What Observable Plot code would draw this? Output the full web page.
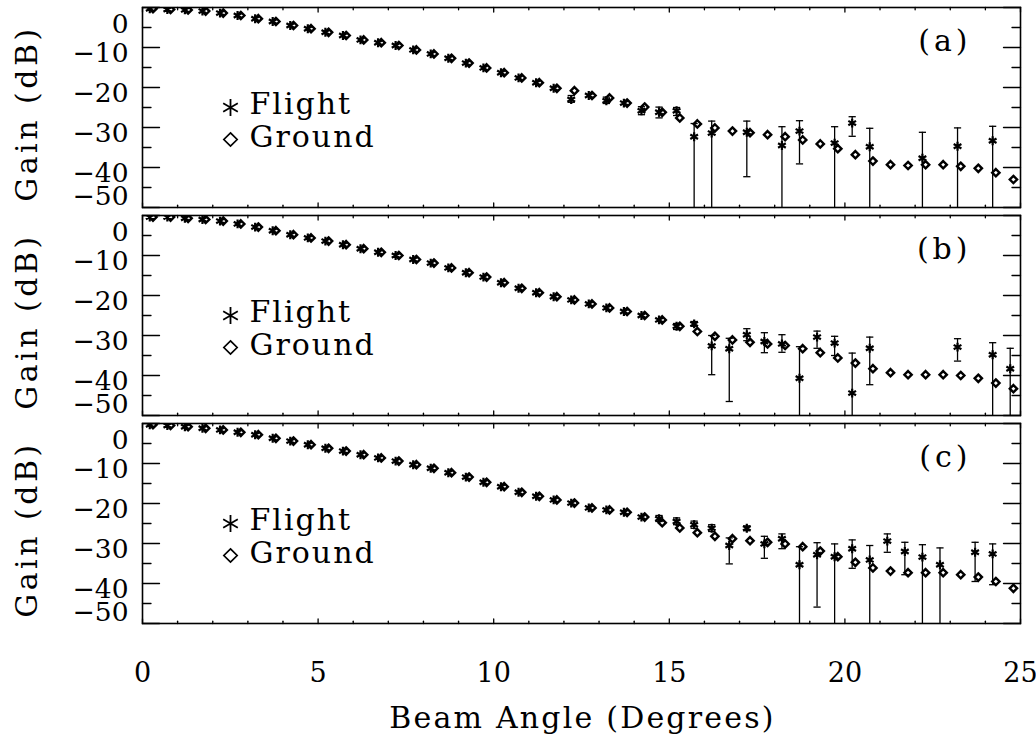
<!DOCTYPE html>
<html><head><meta charset="utf-8">
<script src="https://cdn.jsdelivr.net/npm/d3@7"></script>
<script src="https://cdn.jsdelivr.net/npm/@observablehq/plot@0.6"></script>
<style>
body{margin:0;background:#fff}
#chart{position:relative;width:1036px;height:744px;background:#fff}
#chart svg{position:absolute;left:0}
#chart text[aria-label="legend"]{letter-spacing:2px}
#chart text[aria-label="x title"]{letter-spacing:2.2px}
#chart text[aria-label="y title"]{letter-spacing:3.5px}
#chart text[aria-label="panel"]{letter-spacing:4px}
</style></head><body><div id="chart"></div>
<script>
// Beam angles (degrees) at which gain was measured
const angles = [0.25,0.75,1.25,1.75,2.25,2.75,3.25,3.75,4.25,4.75,5.25,5.75,6.25,6.75,7.25,7.75,8.25,8.75,9.25,9.75,
  10.25,10.75,11.25,11.75,12.25,12.75,13.25,13.75,14.25,14.75,15.25,15.75,16.25,16.75,17.25,17.75,18.25,18.75,19.25,19.75,
  20.25,20.75,21.25,21.75,22.25,22.75,23.25,23.75,24.25,24.75];
const panelLabels = ["(a)", "(b)", "(c)"];
const legendLabels = ["Flight", "Ground"];
const xTickMajor = [0, 5, 10, 15, 20, 25];
const xTickMinor = [1,2,3,4,6,7,8,9,11,12,13,14,16,17,18,19,21,22,23,24];
const yTickMajor = [0, -10, -20, -30, -40, -50];
const yTickMinor = [-5, -15, -25, -35, -45];
const yTickText = ["0", "\u221210", "\u221220", "\u221230", "\u221240", "\u221250"];

// Panel (a)
const flightA = [-0.3,-0.5,-0.6,-0.9,-1.4,-2.0,-2.8,-3.5,-4.5,-5.3,-6.2,-7.0,-8.1,-8.8,-9.5,-10.6,-11.6,-12.7,-13.9,-15.1,
  -16.3,-17.6,-18.8,-20.2,-23.0,-22.0,-23.3,-23.9,-25.8,-26.2,-25.8,-32.3,-31.4,null,-31.2,null,-34.5,-30.9,null,-33.9,
  -28.9,-34.8,null,null,-37.7,null,-34.7,null,-33.3,null];
const groundA = [-0.3,-0.5,-0.6,-0.9,-1.4,-2.0,-2.8,-3.5,-4.5,-5.3,-6.2,-7.0,-8.1,-8.8,-9.5,-10.6,-11.6,-12.7,-13.9,-15.1,
  -16.3,-17.6,-18.8,-20.2,-20.8,-22.0,-22.6,-23.9,-24.9,-26.2,-27.6,-29.1,-30.1,-30.9,-31.3,-31.8,-32.3,-33.1,-34.1,-35.3,
  -36.8,-38.4,-39.3,-39.5,-39.3,-39.3,-39.7,-40.2,-41.3,-43.0];
const errHiA = [null,null,null,null,null,null,null,null,null,null,null,null,null,null,null,null,null,null,null,null,
  null,null,null,null,-22.0,null,-22.4,null,-24.8,-24.9,-25.0,-29.0,-28.4,null,-28.4,null,-29.8,-28.3,null,-29.8,
  -27.3,-30.2,null,null,-31.2,null,-30.1,null,-29.7,null];
const errLoA = [null,null,null,null,null,null,null,null,null,null,null,null,null,null,null,null,null,null,null,null,
  null,null,null,null,-23.7,null,-24.0,null,-26.8,-27.6,-27.0,-60,-60,null,-42.3,null,-60,-39.1,null,-60,
  -32.2,-60,null,null,-60,null,-60,null,-60,null];

// Panel (b)
const flightB = [-0.4,-0.4,-0.7,-1.0,-1.4,-2.1,-2.9,-3.8,-4.8,-5.6,-6.4,-7.3,-8.3,-9.2,-10.0,-11.0,-11.9,-13.1,-14.3,-15.4,
  -16.8,-18.2,-19.3,-20.3,-21.1,-22.1,-23.1,-24.0,-25.0,-26.1,-27.7,-27.1,-32.6,-33.3,-29.8,-31.5,-32.1,-40.7,-30.4,-31.9,
  -44.4,-33.2,null,null,null,null,-32.9,null,-34.8,-38.3];
const groundB = [-0.4,-0.4,-0.7,-1.0,-1.4,-2.1,-2.9,-3.8,-4.8,-5.6,-6.4,-7.3,-8.3,-9.2,-10.0,-11.0,-11.9,-13.1,-14.3,-15.4,
  -16.8,-18.2,-19.3,-20.3,-21.1,-22.1,-23.1,-24.0,-25.0,-26.1,-27.7,-29.0,-30.2,-31.1,-31.7,-32.1,-32.5,-33.3,-34.3,-35.6,
  -36.9,-38.3,-39.3,-39.8,-39.8,-39.8,-40.0,-40.7,-41.9,-43.3];
const errHiB = [null,null,null,null,null,null,null,null,null,null,null,null,null,null,null,null,null,null,null,null,
  null,null,null,null,null,null,null,null,null,null,-27.0,-26.5,-30.0,-30.7,-28.3,-29.3,-29.8,-32.8,-28.9,-30.2,
  -34.4,-30.4,null,null,null,null,-30.8,null,-31.8,-33.2];
const errLoB = [null,null,null,null,null,null,null,null,null,null,null,null,null,null,null,null,null,null,null,null,
  null,null,null,null,null,null,null,null,null,null,-28.5,-27.7,-39.8,-46.5,-31.3,-34.3,-34.2,-60,-33.2,-35.0,
  -60,-42.3,null,null,null,null,-36.4,null,-60,-60];

// Panel (c)
const flightC = [-0.3,-0.5,-0.8,-1.2,-1.6,-2.2,-2.8,-3.7,-4.4,-5.3,-6.2,-6.9,-7.8,-8.6,-9.4,-10.3,-11.2,-12.3,-13.4,-14.7,
  -15.8,-17.2,-18.2,-19.1,-19.9,-21.1,-21.6,-22.2,-23.4,-23.8,-24.5,-25.3,-26.2,-30.5,-26.2,-30.1,-28.8,-35.3,-32.8,-33.3,
  -31.3,-34.1,-29.4,-32.0,-33.4,-35.3,null,-32.2,-32.6,null];
const groundC = [-0.3,-0.5,-0.8,-1.2,-1.6,-2.2,-2.8,-3.7,-4.4,-5.3,-6.2,-6.9,-7.8,-8.6,-9.4,-10.3,-11.2,-12.3,-13.4,-14.7,
  -15.8,-17.2,-18.2,-19.1,-19.9,-21.1,-21.6,-22.2,-23.4,-24.8,-26.1,-27.3,-28.2,-28.8,-29.3,-29.7,-30.1,-30.8,-31.9,-33.3,
  -34.7,-36.1,-36.9,-37.3,-37.3,-37.3,-37.8,-38.4,-39.5,-41.2];
const errHiC = [null,null,null,null,null,null,null,null,null,null,null,null,null,null,null,null,null,null,null,null,
  null,null,null,null,null,null,null,null,null,-23.0,-23.6,-24.4,-25.3,-28.6,-25.6,-28.2,-27.6,-30.8,-29.8,-30.1,
  -29.1,-30.5,-27.6,-29.7,-30.3,-31.1,null,-29.7,-30.1,null];
const errLoC = [null,null,null,null,null,null,null,null,null,null,null,null,null,null,null,null,null,null,null,null,
  null,null,null,null,null,null,null,null,null,-24.5,-25.3,-26.2,-27.0,-35.1,-26.8,-33.7,-31.3,-60,-45.9,-60,
  -36.2,-60,-32.2,-37.8,-60,-60,null,-39.5,-40.3,null];

const panelData = [
  {flight: flightA, ground: groundA, hi: errHiA, lo: errLoA},
  {flight: flightB, ground: groundB, hi: errHiB, lo: errLoB},
  {flight: flightC, ground: groundC, hi: errHiC, lo: errLoC}
];

const FONT = "DejaVu Serif";
const capSymbol = {draw(ctx, size) { const r = Math.sqrt(size / Math.PI); ctx.moveTo(-r, 0); ctx.lineTo(r, 0); }};
const tickShape = {draw(ctx, l) { ctx.moveTo(0, 0); ctx.lineTo(0, -l); }};

function tickVectors(values, opts) {
  return Plot.vector(values, {...opts, anchor: "start", shape: tickShape, stroke: "black", strokeWidth: 1.3});
}

function makePanel(i) {
  const p = panelData[i];
  const isLast = i === panelData.length - 1;
  const rows = angles.map((a, k) => ({angle: a, flight: p.flight[k], ground: p.ground[k], hi: p.hi[k], lo: p.lo[k]}));
  const fl = rows.filter(d => d.flight != null);
  const gr = rows.filter(d => d.ground != null);
  const eb = rows.filter(d => d.hi != null);
  const marginTop = 4, marginBottom = isLast ? 121 : 4;
  const yl = yTickMajor.map((v, j) => ({v, t: yTickText[j]}));
  const ylab = {y: "v", text: "t", frameAnchor: "left", textAnchor: "end", lineAnchor: "middle", dx: -14, fontSize: 26.5, fill: "black"};
  const marks = [
    Plot.ruleX(eb, {x: "angle", y1: "lo", y2: "hi", dx: -1.5, stroke: "black", strokeWidth: 1.3, clip: true}),
    Plot.dot(eb, {x: "angle", y: "hi", dx: -1.5, symbol: capSymbol, r: 3.6, stroke: "black", fill: "none", strokeWidth: 1.3, clip: true}),
    Plot.dot(eb, {x: "angle", y: "lo", dx: -1.5, symbol: capSymbol, r: 3.6, stroke: "black", fill: "none", strokeWidth: 1.3, clip: true}),
    Plot.dot(gr, {x: "angle", y: "ground", dx: 1.7, symbol: "diamond2", r: 3.3, stroke: "black", fill: "none", strokeWidth: 2.4, clip: true}),
    Plot.dot(fl, {x: "angle", y: "flight", dx: -1.5, symbol: "asterisk", r: 4.2, stroke: "black", fill: "none", strokeWidth: 2.2, clip: true}),
    Plot.frame({stroke: "black", strokeWidth: 1.6}),
    // inward ticks
    tickVectors(yTickMajor, {y: d => d, frameAnchor: "left", rotate: 90, length: 17}),
    tickVectors(yTickMinor, {y: d => d, frameAnchor: "left", rotate: 90, length: 8.5}),
    tickVectors(yTickMajor, {y: d => d, frameAnchor: "right", rotate: -90, length: 17}),
    tickVectors(yTickMinor, {y: d => d, frameAnchor: "right", rotate: -90, length: 8.5}),
    tickVectors(xTickMajor, {x: d => d, frameAnchor: "bottom", rotate: 0, length: 4.5}),
    tickVectors(xTickMinor, {x: d => d, frameAnchor: "bottom", rotate: 0, length: 2.3}),
    tickVectors(xTickMajor, {x: d => d, frameAnchor: "top", rotate: 180, length: 4.5}),
    tickVectors(xTickMinor, {x: d => d, frameAnchor: "top", rotate: 180, length: 2.3}),
    // y tick labels (end labels nudged inward, as in the original stacked panels)
    Plot.text(yl.slice(1, 5), {...ylab, dy: 6}),
    Plot.text(yl.slice(0, 1), {...ylab, dy: 17}),
    Plot.text(yl.slice(5, 6), {...ylab, dy: -11}),
    // y axis title
    Plot.text(["Gain (dB)"], {ariaLabel: () => "y title", frameAnchor: "left", textAnchor: "middle", rotate: -90, dx: -115, dy: 6, lineAnchor: "middle", fontSize: 30, fill: "black"}),
    // legend
    Plot.dot([legendLabels[0]], {frameAnchor: "top-left", dx: 88, dy: 100, symbol: "asterisk", r: 8, stroke: "black", strokeWidth: 1.8}),
    Plot.dot([legendLabels[1]], {frameAnchor: "top-left", dx: 88, dy: 132, symbol: "diamond2", r: 6, stroke: "black", fill: "none", strokeWidth: 1.7}),
    Plot.text([legendLabels[0]], {ariaLabel: () => "legend", frameAnchor: "top-left", dx: 107, dy: 106, textAnchor: "start", lineAnchor: "bottom", fontSize: 30, fill: "black"}),
    Plot.text([legendLabels[1]], {ariaLabel: () => "legend", frameAnchor: "top-left", dx: 107, dy: 139, textAnchor: "start", lineAnchor: "bottom", fontSize: 30, fill: "black"}),
    // panel label
    Plot.text([panelLabels[i]], {ariaLabel: () => "panel", frameAnchor: "top-right", dx: -49, dy: 34, textAnchor: "end", lineAnchor: "middle", fontSize: 30, fill: "black"})
  ];
  if (isLast) {
    marks.push(
      Plot.text(xTickMajor, {x: d => d, text: d => String(d), frameAnchor: "bottom", textAnchor: "middle", dy: 50, lineAnchor: "middle", fontSize: 27, fill: "black"}),
      Plot.text(["Beam Angle (Degrees)"], {ariaLabel: () => "x title", frameAnchor: "bottom", textAnchor: "middle", dx: 1, dy: 95, lineAnchor: "middle", fontSize: 30, fill: "black"})
    );
  }
  return Plot.plot({
    width: 1036,
    height: marginTop + 200 + marginBottom,
    marginLeft: 142, marginRight: 16, marginTop, marginBottom,
    x: {domain: [0, 25], axis: null},
    y: {domain: [-50, 0], axis: null},
    style: {fontFamily: FONT, background: "white", overflow: "visible"},
    marks
  });
}

const chart = document.getElementById("chart");
const tops = [3, 211, 419];
panelData.forEach((_, i) => {
  const svg = makePanel(i);
  svg.style.top = tops[i] + "px";
  chart.appendChild(svg);
});
</script></body></html>
